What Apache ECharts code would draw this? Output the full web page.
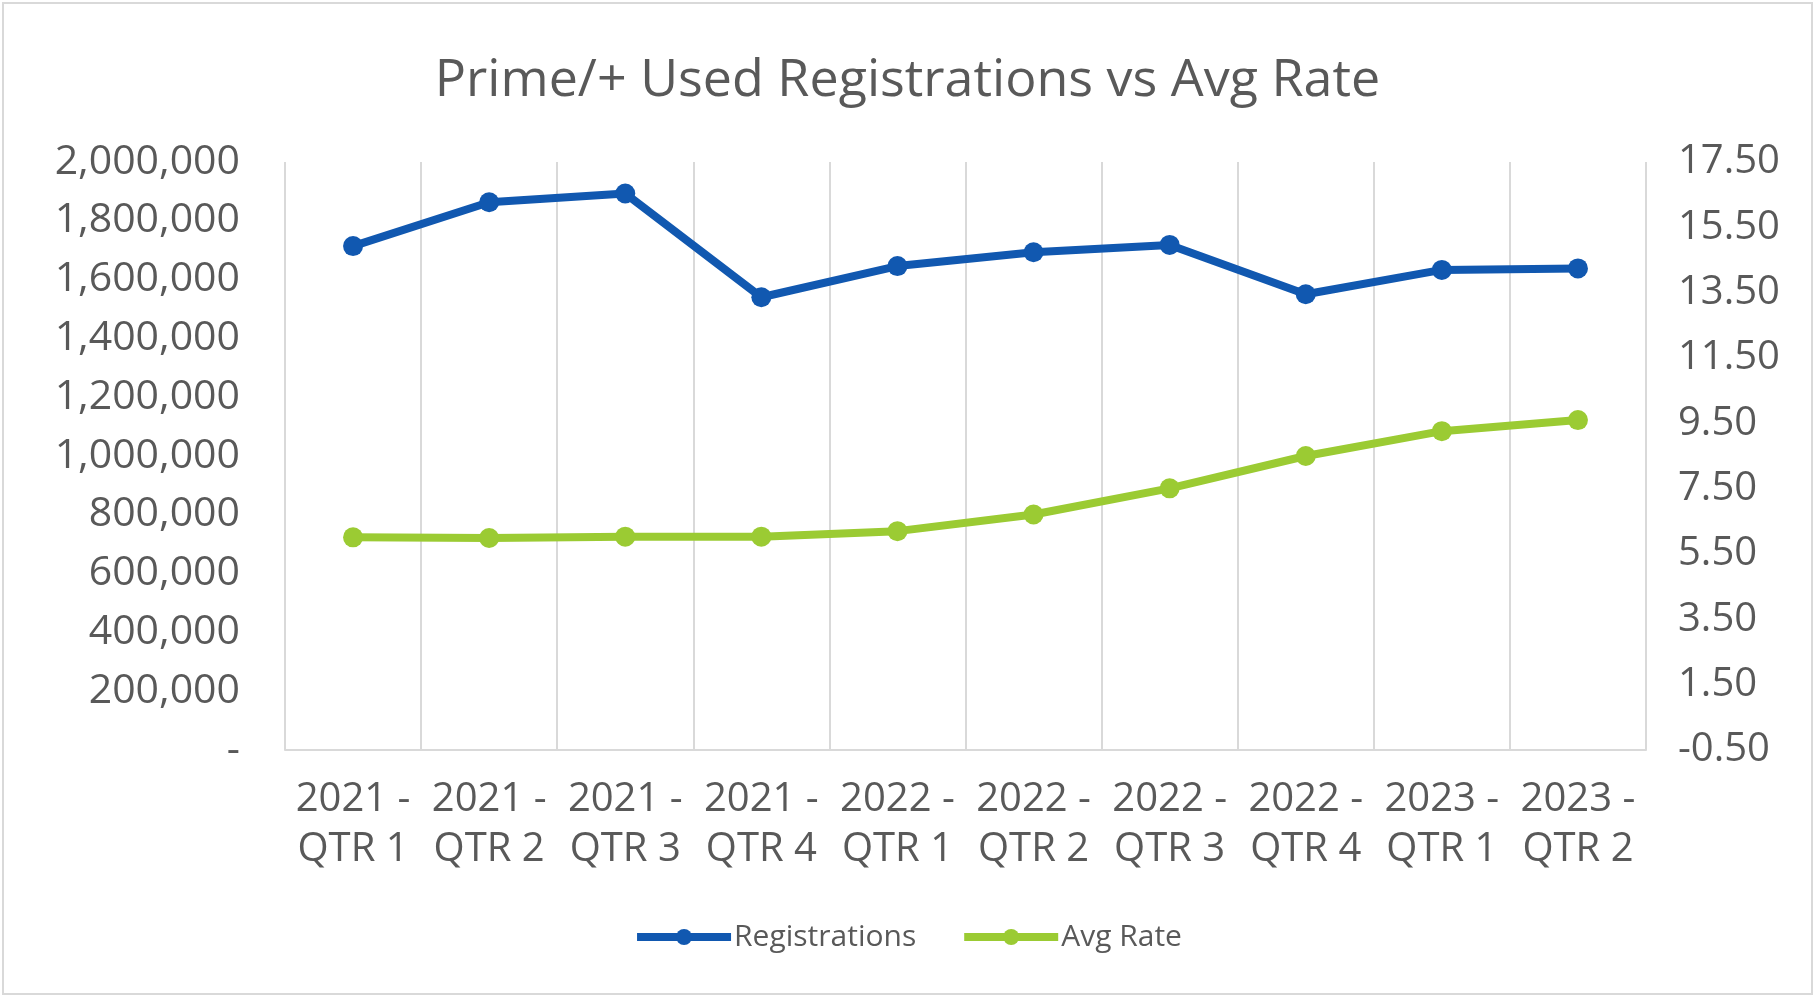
<!DOCTYPE html>
<html>
<head>
<meta charset="utf-8">
<script src="https://cdn.jsdelivr.net/npm/echarts@6/dist/echarts.min.js"></script>
<style>
  html, body { margin: 0; padding: 0; background: #ffffff; }
  #chart { width: 1815px; height: 999px; }
</style>
</head>
<body>
<div id="chart"></div>
<script>
const categories = ["2021 -\nQTR 1", "2021 -\nQTR 2", "2021 -\nQTR 3", "2021 -\nQTR 4",
                    "2022 -\nQTR 1", "2022 -\nQTR 2", "2022 -\nQTR 3", "2022 -\nQTR 4",
                    "2023 -\nQTR 1", "2023 -\nQTR 2"];
const registrations = [1714000, 1863000, 1893000, 1540000, 1646000, 1693000, 1718000, 1550000, 1633000, 1638000];
const avgRate = [6.01, 5.99, 6.03, 6.03, 6.20, 6.71, 7.51, 8.50, 9.26, 9.60];
const leftTicks = { min: 0, max: 2000000, interval: 200000 };
const rightTicks = { min: -0.5, max: 17.5, interval: 2 };

const FONT = "'Open Sans', 'Noto Sans', sans-serif";
const TEXT = "#595959";
const GRIDC = "#d9d9d9";
const BLUE = "#1158b0";
const GREEN = "#9bcb33";

const chart = echarts.init(document.getElementById('chart'), null, { renderer: 'canvas' });
chart.setOption({
  animation: false,
  backgroundColor: '#ffffff',
  graphic: [{
    type: 'rect',
    shape: { x: 3, y: 3, width: 1809, height: 991 },
    style: { fill: 'none', stroke: GRIDC, lineWidth: 2 },
    silent: true
  }],
  title: {
    text: 'Prime/+ Used Registrations vs Avg Rate',
    left: 'center',
    top: 46,
    textStyle: { fontFamily: FONT, fontSize: 52, fontWeight: 'normal', color: TEXT, lineHeight: 60 }
  },
  legend: {
    bottom: 42,
    left: 'center',
    itemWidth: 94,
    itemHeight: 20,
    itemGap: 44,
    lineStyle: { width: 8 },
    textStyle: { fontFamily: FONT, fontSize: 30, color: TEXT, padding: [0, 0, 0, -2] },
    data: ['Registrations', 'Avg Rate']
  },
  grid: { left: 285, right: 169, top: 162, bottom: 249, containLabel: false },
  xAxis: {
    type: 'category',
    data: categories,
    boundaryGap: true,
    axisLine: { show: true, lineStyle: { color: GRIDC, width: 2 } },
    axisTick: { show: false },
    splitLine: { show: true, lineStyle: { color: GRIDC, width: 2 } },
    axisLabel: {
      interval: 0, margin: 25, color: TEXT, fontFamily: FONT, fontSize: 40, lineHeight: 50
    }
  },
  yAxis: [{
    type: 'value',
    min: leftTicks.min, max: leftTicks.max, interval: leftTicks.interval,
    axisLine: { show: false }, axisTick: { show: false }, splitLine: { show: false },
    axisLabel: {
      margin: 45, color: TEXT, fontFamily: FONT, fontSize: 41,
      formatter: v => v === 0 ? '-' : v.toLocaleString('en-US')
    }
  }, {
    type: 'value',
    min: rightTicks.min, max: rightTicks.max, interval: rightTicks.interval,
    axisLine: { show: false }, axisTick: { show: false }, splitLine: { show: false },
    axisLabel: {
      margin: 32, color: TEXT, fontFamily: FONT, fontSize: 40,
      formatter: v => v.toFixed(2)
    }
  }],
  series: [{
    name: 'Registrations',
    type: 'line',
    yAxisIndex: 0,
    data: registrations,
    symbol: 'circle',
    symbolSize: 20,
    itemStyle: { color: BLUE },
    lineStyle: { color: BLUE, width: 8 }
  }, {
    name: 'Avg Rate',
    type: 'line',
    yAxisIndex: 1,
    data: avgRate,
    symbol: 'circle',
    symbolSize: 20,
    itemStyle: { color: GREEN },
    lineStyle: { color: GREEN, width: 8 }
  }]
});
</script>
</body>
</html>
